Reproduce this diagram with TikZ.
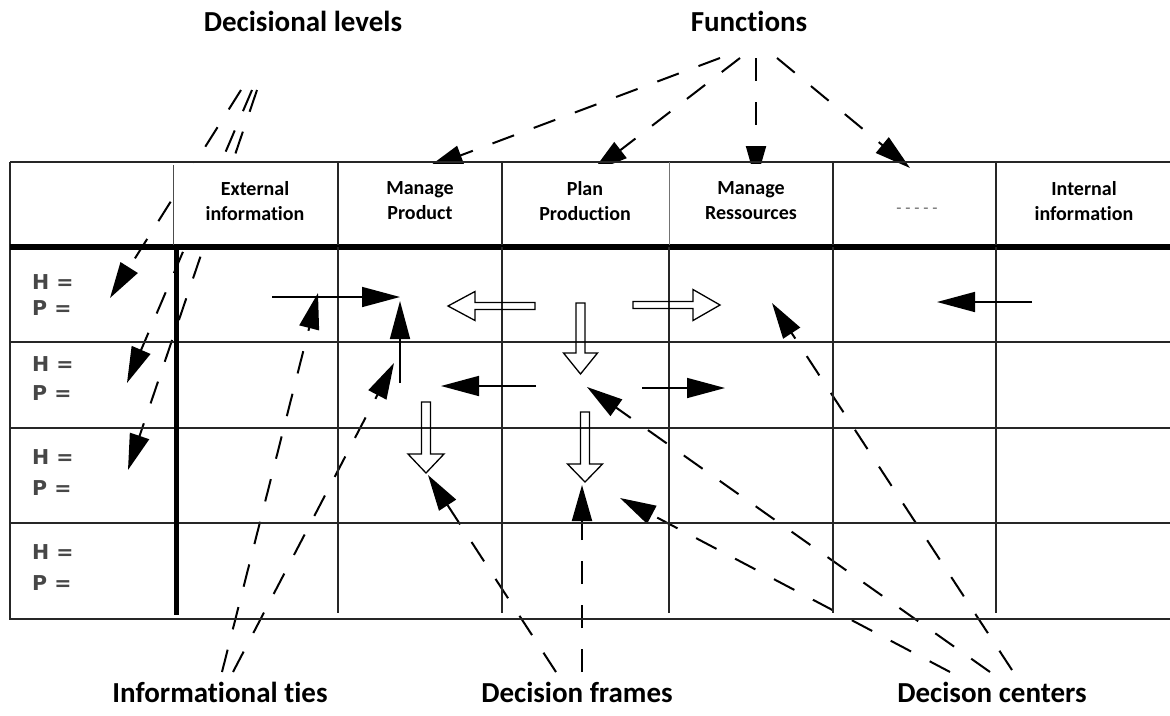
\documentclass[tikz,border=0pt]{standalone}
\usepackage{fontspec}
\setmainfont{Carlito}[Ligatures={NoCommon}]
\newfontfamily\levelfont{DejaVu Sans}
\usetikzlibrary{arrows.meta,calc}

\tikzset{
  gridline/.style={line width=1.5pt, draw=black!85},
  thinline/.style={line width=0.8pt, draw=black!70},
  heavyline/.style={line width=5.5pt, draw=black},
  dasharrow/.style={line width=2pt, dash pattern=on 23pt off 21pt, -{Triangle[length=36pt,width=20pt]}},
  solidarrow/.style={line width=1.6pt, -{Triangle[length=38pt,width=20pt]}},
  hollow/.style={line width=1.3pt, draw=black},
  lbl/.style={font=\fontsize{29}{32}\selectfont\bfseries, anchor=base, inner sep=0pt},
  hdr/.style={font=\fontsize{20}{25}\selectfont\bfseries, align=center, inner sep=0pt},
  lvl/.style={font=\levelfont\fontsize{20.5}{21}\selectfont\bfseries, text=black!72, anchor=west, inner sep=0pt},
  cellfill/.style={fill=white},
}

\newcommand{\hollowarr}[5]{%
  \path ($(#2)!#5!(#1)$) coordinate (hb);
  \draw[hollow] ($(#1)!#3!90:(#2)$) -- ($(hb)!#3!90:(#2)$) -- ($(hb)!#4!90:(#2)$)
     -- (#2) -- ($(hb)!#4!-90:(#2)$) -- ($(hb)!#3!-90:(#2)$) -- ($(#1)!#3!-90:(#2)$) -- cycle;
}

\begin{document}
\begin{tikzpicture}[x=1pt,y=-1pt]
\useasboundingbox (0,0) rectangle (1170,715);

% ---------- titles ----------
\node[lbl] (declev) at (303,31) {Decisional levels};
\node[lbl] (func)   at (749,31) {Functions};
\node[lbl] (infties) at (220,702) {Informational ties};
\node[lbl] (decfr)  at (577,702) {Decision frames};
\node[lbl] (deccen) at (992,702) {Decison centers};

% ---------- coordinates of connectors ----------
% functions
\coordinate (fs1) at (720,58);  \coordinate (ft1) at (427,168);
\coordinate (fs2) at (740,58);  \coordinate (ft2) at (592,172);
\coordinate (fs3) at (756,58);  \coordinate (ft3) at (756,182);
\coordinate (fs4) at (777,58);  \coordinate (ft4) at (910,168);
% decisional levels
\coordinate (ls1) at (241,90);  \coordinate (lt1) at (110,298);
\coordinate (ls2) at (252,90);  \coordinate (lt2) at (127,383);
\coordinate (ls3) at (257,90);  \coordinate (lt3) at (128,470);
% informational ties
\coordinate (is1) at (222,672); \coordinate (it1) at (318,293);
\coordinate (is2) at (233,672); \coordinate (it2) at (394,363);
% decision frames
\coordinate (rs1) at (556,672); \coordinate (rt1) at (428,475);
\coordinate (rs2) at (582,672); \coordinate (rt2) at (582,485);
% decision centers
\coordinate (cs1) at (1012,670); \coordinate (ct1) at (772,303);
\coordinate (cs2) at (990,672);  \coordinate (ct2) at (587,387);
\coordinate (cs3) at (950,672);  \coordinate (ct3) at (620,498);

% ---------- dashed connectors ----------
\foreach \s/\t in {fs1/ft1,fs2/ft2,fs3/ft3,fs4/ft4,ls1/lt1,ls2/lt2,ls3/lt3,
                   is1/it1,is2/it2,rs1/rt1,rs2/rt2,cs1/ct1,cs2/ct2,cs3/ct3}
  \draw[dasharrow] (\s) -- (\t);

% ---------- opaque header cells ----------
\fill[cellfill] (174.5,163.5) rectangle (336.5,244);
\fill[cellfill] (339.5,163.5) rectangle (500.5,244);
\fill[cellfill] (503.5,163.5) rectangle (667.5,244);
\fill[cellfill] (670.5,163.5) rectangle (831.5,244);

% ---------- table ----------
\draw[gridline] (10,162) -- (1170,162);
\draw[gridline] (10,162) -- (10,619) -- (1170,619);
\foreach \y in {342,428,523} \draw[gridline] (10,\y) -- (1170,\y);
\draw[heavyline] (10,247) -- (1170,247);
% header verticals
\draw[thinline] (173,165) -- (173,245);
\foreach \x in {338,502,833,996} \draw[gridline] (\x,162) -- (\x,245);
\draw[line width=0.6pt, draw=black!55] (669,162) -- (669,245);
% body verticals
\draw[heavyline] (176.5,247) -- (176.5,615);
\foreach \x in {338,502,669,833,996} \draw[gridline] (\x,247) -- (\x,613);

% ---------- header texts ----------
\node[hdr] (hext) at (255,201) {External\\information};
\node[hdr] (hman) at (420,201) {Manage\\Product};
\node[hdr] (hplan) at (585,201) {Plan\\Production};
\node[hdr] (hres) at (751,201) {Manage\\Ressources};
\node[hdr, text=black!60, font=\fontsize{17}{18}\selectfont] (hdots) at (917,211) {- - - - -};
\node[hdr] (hint) at (1084,201) {Internal\\information};

% ---------- level labels ----------
\foreach \r/\yh/\yp in {1/282/308, 2/364/393, 3/457/488, 4/552/583} {
  \node[lvl] (h\r) at (32,\yh) {H =};
  \node[lvl] (p\r) at (32,\yp) {P =};
}

% ---------- solid arrows ----------
\coordinate (sa1s) at (272,297);  \coordinate (sa1t) at (400,297);
\coordinate (sa2s) at (400,383);  \coordinate (sa2t) at (400,301);
\coordinate (sa3s) at (536,386);  \coordinate (sa3t) at (441,386);
\coordinate (sa4s) at (642,388);  \coordinate (sa4t) at (725,388);
\coordinate (sa5s) at (1032,302); \coordinate (sa5t) at (937,302);
\foreach \s/\t in {sa1s/sa1t,sa2s/sa2t,sa3s/sa3t,sa4s/sa4t,sa5s/sa5t}
  \draw[solidarrow] (\s) -- (\t);

% ---------- hollow arrows ----------
\coordinate (h1s) at (535,306);   \coordinate (h1t) at (448,306);
\coordinate (h2s) at (580.5,303); \coordinate (h2t) at (580.5,374);
\coordinate (h3s) at (633,305);   \coordinate (h3t) at (720,305);
\coordinate (h4s) at (426,402);   \coordinate (h4t) at (426,473);
\coordinate (h5s) at (585,412);   \coordinate (h5t) at (585,482);
\hollowarr{h1s}{h1t}{3.5pt}{14.5pt}{27pt}
\hollowarr{h2s}{h2t}{4.5pt}{17pt}{21pt}
\hollowarr{h3s}{h3t}{3.5pt}{15.5pt}{27pt}
\hollowarr{h4s}{h4t}{4.5pt}{18pt}{19pt}
\hollowarr{h5s}{h5t}{4.5pt}{17.5pt}{18pt}

\end{tikzpicture}
\end{document}
